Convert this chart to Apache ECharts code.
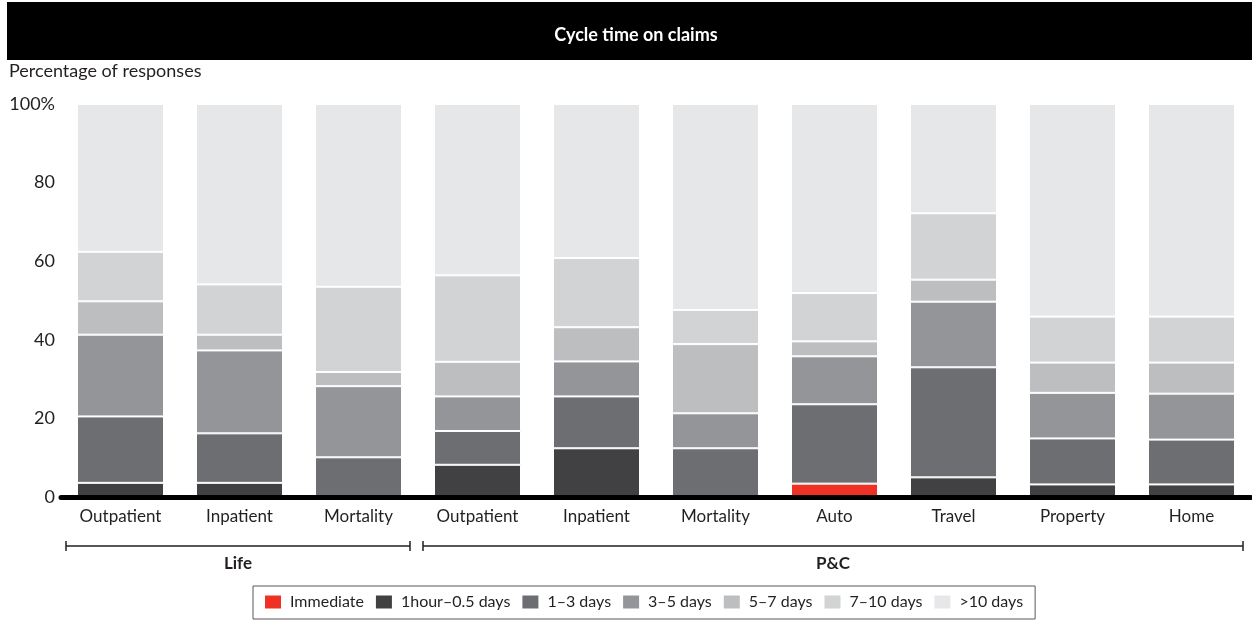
<!DOCTYPE html>
<html>
<head>
<meta charset="utf-8">
<script src="https://cdn.jsdelivr.net/npm/echarts@6/dist/echarts.min.js"></script>
<style>
  html, body { margin: 0; padding: 0; background: #fff; }
  #chart { width: 1252px; height: 621px; }
</style>
</head>
<body>
<div id="chart"></div>
<script>
var categories = ['Outpatient', 'Inpatient', 'Mortality', 'Outpatient', 'Inpatient', 'Mortality', 'Auto', 'Travel', 'Property', 'Home'];
var groupNames = ['Life', 'P&C'];
var groupSpans = [[0, 2], [3, 9]];

var seriesNames = ['Immediate', '1hour\u20130.5 days', '1\u20133 days', '3\u20135 days', '5\u20137 days', '7\u201310 days', '>10 days'];
var immediate = [0, 0, 0, 0, 0, 0, 3.4, 0, 0, 0];
var hourToHalfDay = [3.6, 3.6, 0, 8.2, 12.4, 0, 0, 5.0, 3.2, 3.2];
var days1to3 = [16.9, 12.6, 10.1, 8.6, 13.2, 12.4, 20.2, 28.0, 11.7, 11.4];
var days3to5 = [20.8, 21.1, 18.1, 8.8, 8.9, 8.9, 12.2, 16.7, 11.6, 11.7];
var days5to7 = [8.5, 4.0, 3.6, 8.8, 8.7, 17.6, 3.8, 5.6, 7.7, 7.9];
var days7to10 = [12.6, 12.8, 21.7, 22.0, 17.6, 8.7, 12.3, 16.9, 11.7, 11.7];
var over10days = [37.6, 45.9, 46.5, 43.6, 39.2, 52.4, 48.1, 27.8, 54.1, 54.1];

var colors = ['#ee3124', '#414042', '#6d6e71', '#939598', '#bcbec0', '#d1d3d4', '#e6e7e8'];
var values = [immediate, hourToHalfDay, days1to3, days3to5, days5to7, days7to10, over10days];

var font = 'Lato, "Open Sans", sans-serif';
var ink = '#231f20';

var chart = echarts.init(document.getElementById('chart'));

var series = seriesNames.map(function (name, i) {
    return {
        name: name,
        type: 'bar',
        stack: 'total',
        barWidth: 87,
        // empty segments are skipped so they leave no white seam
        data: values[i].map(function (v) { return v === 0 ? '-' : v; }),
        itemStyle: { color: colors[i], borderColor: '#fff', borderWidth: 1 },
        emphasis: { disabled: true }
    };
});

chart.setOption({
    animation: false,
    textStyle: { fontFamily: font },
    title: [{
        text: 'Cycle time on claims',
        left: 631,
        top: 21,
        textAlign: 'center',
        textStyle: { color: '#fff', fontSize: 18, fontWeight: 'bold', fontFamily: font }
    }, {
        text: 'Percentage of responses',
        left: 9,
        top: 62,
        padding: 0,
        textStyle: { color: ink, fontSize: 18, fontWeight: 'normal', fontFamily: font }
    }],
    grid: { left: 61, right: 1, top: 104, bottom: 124 },
    legend: {
        left: 253,
        top: 586,
        padding: [8, 12, 9, 12],
        borderColor: '#58595b',
        borderWidth: 1,
        itemWidth: 16,
        itemHeight: 13,
        itemGap: 12,
        icon: 'rect',
        itemStyle: { borderWidth: 0 },
        textStyle: { color: ink, fontSize: 16, fontFamily: font, padding: [0, 0, 0, 4] },
        data: seriesNames
    },
    xAxis: {
        type: 'category',
        data: categories,
        offset: 2,
        z: 5,
        axisLine: { lineStyle: { color: '#000', width: 5 } },
        axisTick: { show: false },
        axisLabel: { color: ink, fontSize: 17, margin: 9, interval: 0 }
    },
    yAxis: {
        type: 'value',
        min: 0,
        max: 100,
        interval: 20,
        axisLine: { show: false },
        axisTick: { show: false },
        splitLine: { show: false },
        axisLabel: {
            color: ink,
            fontSize: 18,
            margin: 6,
            formatter: function (v) { return v === 100 ? v + '%' : String(v); }
        }
    },
    series: series
});

// title bar and group brackets, placed from the category axis
var c0 = chart.convertToPixel({ xAxisIndex: 0 }, 0);
var c1 = chart.convertToPixel({ xAxisIndex: 0 }, 1);
var band = c1 - c0;
var bracketY = 546;
var graphics = [{
    type: 'rect',
    z: 0,
    shape: { x: 7, y: 2, width: 1245, height: 58 },
    style: { fill: '#000' }
}];
groupSpans.forEach(function (span, i) {
    var x1 = chart.convertToPixel({ xAxisIndex: 0 }, span[0]) - band / 2 + 5;
    var x2 = chart.convertToPixel({ xAxisIndex: 0 }, span[1]) + band / 2 - 8;
    var stroke = { stroke: ink, lineWidth: 1.5 };
    graphics.push({ type: 'line', shape: { x1: x1, y1: bracketY, x2: x2, y2: bracketY }, style: stroke });
    graphics.push({ type: 'line', shape: { x1: x1, y1: bracketY - 5, x2: x1, y2: bracketY + 5 }, style: stroke });
    graphics.push({ type: 'line', shape: { x1: x2, y1: bracketY - 5, x2: x2, y2: bracketY + 5 }, style: stroke });
    graphics.push({
        type: 'text',
        x: (x1 + x2) / 2,
        y: 564,
        style: {
            text: groupNames[i],
            fill: ink,
            font: 'bold 17px ' + font,
            textAlign: 'center',
            textVerticalAlign: 'middle'
        }
    });
});
chart.setOption({ graphic: graphics });
</script>
</body>
</html>
